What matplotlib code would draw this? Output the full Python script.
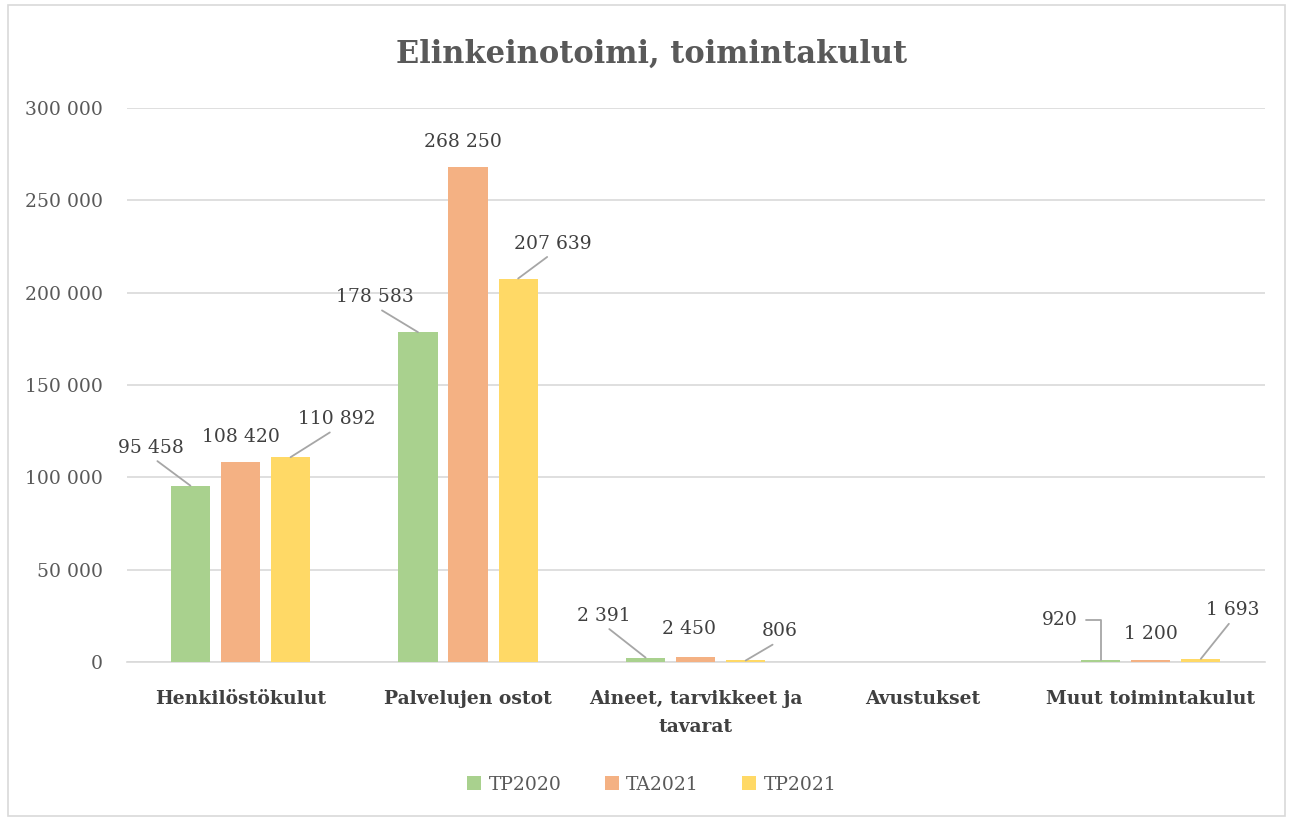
import matplotlib.pyplot as plt
import numpy as np
from matplotlib.patches import Rectangle

categories = ["Henkilöstökulut", "Palvelujen ostot", "Aineet, tarvikkeet ja\ntavarat",
              "Avustukset", "Muut toimintakulut"]
series = ["TP2020", "TA2021", "TP2021"]
tp2020 = [95458, 178583, 2391, 0, 920]
ta2021 = [108420, 268250, 2450, 0, 1200]
tp2021 = [110892, 207639, 806, 0, 1693]
colors = ["#A9D18E", "#F4B183", "#FFD966"]

# label offsets in pixels (dx, dy) from bar top, and whether a leader line is drawn
offsets = [
    [(-39, 38, True), (-43, 35, True), (-42, 42, True), None, (-41, 40, "elbow")],
    [(0, 25, False), (-5, 25, False), (-7, 28, False), None, (0, 26, False)],
    [(46, 38, True), (35, 35, True), (34, 29, True), None, (32, 49, True)],
]

plt.rcParams['font.family'] = ['DejaVu Serif']

fig = plt.figure(figsize=(12.93, 8.21), dpi=100)
ax = fig.add_axes([0.098, 0.1937, 0.880, 0.6748])
fig.patches.append(Rectangle((0.006, 0.006), 0.988, 0.988, transform=fig.transFigure,
                             fill=False, edgecolor="#d9d9d9", lw=1.2))

x = np.arange(len(categories))
width = 0.172
step = 0.22
data = [tp2020, ta2021, tp2021]
fs = 13.5

for i, (vals, name, col) in enumerate(zip(data, series, colors)):
    pos = x + (i - 1) * step
    ax.bar(pos, vals, width=width, color=col, label=name, zorder=3)
    for j, v in enumerate(vals):
        off = offsets[i][j]
        if off is None or v == 0:
            continue
        dx, dy, leader = off
        label = f"{v:,}".replace(",", " ")
        if leader is True:
            ax.annotate(label, xy=(pos[j], v), xytext=(dx, dy), textcoords="offset pixels",
                        ha="center", va="center", fontsize=fs, color="#404040",
                        arrowprops=dict(arrowstyle="-", color="#a6a6a6", lw=1.3,
                                        shrinkA=2, shrinkB=0, relpos=(0.5, 0)))
        elif leader == "elbow":
            ax.annotate(label, xy=(pos[j], v), xytext=(dx, dy), textcoords="offset pixels",
                        ha="center", va="center", fontsize=fs, color="#404040",
                        arrowprops=dict(arrowstyle="-", color="#a6a6a6", lw=1.3,
                                        shrinkA=4, shrinkB=0, relpos=(1, 0.5),
                                        connectionstyle="angle,angleA=0,angleB=90,rad=0"))
        else:
            ax.annotate(label, xy=(pos[j], v), xytext=(dx, dy), textcoords="offset pixels",
                        ha="center", va="center", fontsize=fs, color="#404040")

ax.set_xlim(-0.5, len(categories) - 0.5)
ax.set_ylim(0, 300000)
ax.set_yticks(np.arange(0, 300001, 50000))
ax.set_yticklabels([f"{t:,}".replace(",", " ") for t in range(0, 300001, 50000)])
ax.set_xticks(x)
ax.set_xticklabels(categories, fontweight="bold", fontsize=13.5, color="#404040",
                   linespacing=1.75)
ax.tick_params(axis="y", length=0, pad=17, labelsize=fs, labelcolor="#595959")
ax.tick_params(axis="x", length=0, pad=20)
ax.grid(axis="y", color="#d9d9d9", lw=1.2, zorder=0)
for s in ["top", "right", "left"]:
    ax.spines[s].set_visible(False)
ax.spines["bottom"].set_color("#d9d9d9")
ax.spines["bottom"].set_linewidth(1.2)

fig.suptitle("Elinkeinotoimi, toimintakulut", x=0.504, y=0.953, fontsize=22,
             fontweight="bold", color="#595959")

fig.legend(loc="center", bbox_to_anchor=(0.504, 0.044), ncol=3, frameon=False,
           fontsize=fs, handlelength=0.75, handleheight=0.75, handletextpad=0.4,
           columnspacing=2.3, labelcolor="#595959")

plt.savefig("out.png", dpi=100)
